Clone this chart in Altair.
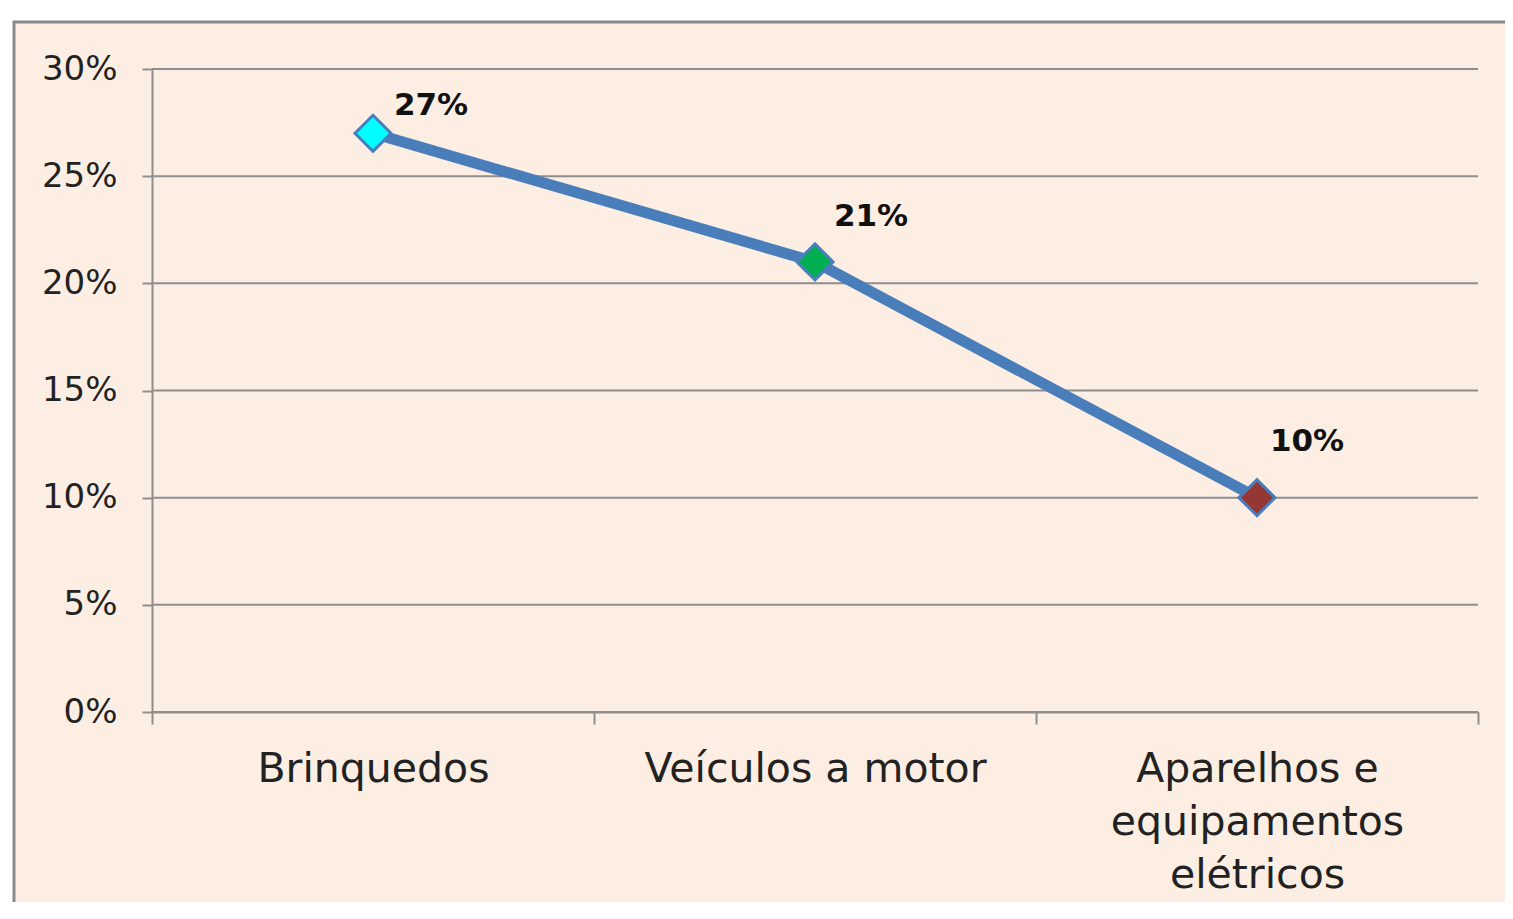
import altair as alt
import pandas as pd

categories = ["Brinquedos", "Veículos a motor", "Aparelhos e equipamentos elétricos"]
values = [0.27, 0.21, 0.10]
value_labels = ["27%", "21%", "10%"]
marker_colors = ["#00FFFF", "#00B050", "#953735"]
y_ticks = [0, 0.05, 0.10, 0.15, 0.20, 0.25, 0.30]
label_offsets = [(58, -27), (56, -45), (50, -56)]

df = pd.DataFrame({"cat": categories, "val": values, "lab": value_labels})
grid_df = pd.DataFrame({"val": y_ticks})

FONT = "DejaVu Sans"
PEACH = "#FCEEE3"
BLUE = "#4A7EBB"
GRID = "#8E8E8E"

x_enc = alt.X(
    "cat:N",
    sort=categories,
    scale=alt.Scale(domain=categories, paddingInner=0, paddingOuter=0),
    axis=alt.Axis(
        title=None,
        labelAngle=0,
        grid=False,
        tickBand="extent",
        tickSize=12,
        tickWidth=2,
        tickColor=GRID,
        domainColor=GRID,
        domainWidth=2,
        labelPadding=25,
        labelFont=FONT,
        labelFontSize=41,
        labelColor="#222222",
        labelLineHeight=53,
        labelLimit=500,
        zindex=1,
        labelExpr="datum.label == 'Aparelhos e equipamentos elétricos' ? ['Aparelhos e', 'equipamentos', 'elétricos'] : datum.label",
    ),
)
y_scale = alt.Scale(domain=[0, 0.30], nice=False)
y_axis = alt.Axis(
    title=None,
    values=y_ticks,
    format=".0%",
    grid=False,
    tickSize=10,
    tickWidth=2,
    tickColor=GRID,
    domainColor=GRID,
    domainWidth=2,
    labelPadding=25,
    labelFont=FONT,
    labelFontSize=34,
    labelColor="#222222",
    labelLimit=300,
    zindex=1,
)
y_enc = alt.Y("val:Q", scale=y_scale, axis=y_axis)

bg = alt.Chart(pd.DataFrame({"a": [0]})).mark_rect(
    fill=PEACH, stroke="#8A8A8A", strokeWidth=3
).encode(
    x=alt.value(-138), x2=alt.value(1420), y=alt.value(-47), y2=alt.value(900)
)

grid = alt.Chart(grid_df).mark_rule(color=GRID, strokeWidth=2).encode(y=y_enc)

base = alt.Chart(df)

line = base.mark_line(color=BLUE, strokeWidth=11).encode(x=x_enc, y=y_enc)

points = base.mark_point(
    shape="diamond", size=1300, filled=True, opacity=1, stroke=BLUE, strokeWidth=3
).encode(
    x=x_enc,
    y=y_enc,
    fill=alt.Fill("cat:N", scale=alt.Scale(domain=categories, range=marker_colors), legend=None),
)

texts = []
for c, (dx, dy) in zip(categories, label_offsets):
    texts.append(
        base.transform_filter(alt.datum.cat == c)
        .mark_text(
            font=FONT, fontSize=31, fontWeight="bold", color="#111111",
            align="center", baseline="middle", dx=dx, dy=dy,
        )
        .encode(x=x_enc, y=y_enc, text="lab:N")
    )

chart = alt.layer(bg, grid, line, points, *texts).properties(
    width=1326,
    height=643,
    autosize=alt.AutoSizeParams(type="none"),
    padding={"left": 144, "top": 61, "right": 27, "bottom": 190},
).configure_view(stroke=None).configure(background="white")

chart.save("out.html", embed_options={"renderer": "svg", "actions": False})
